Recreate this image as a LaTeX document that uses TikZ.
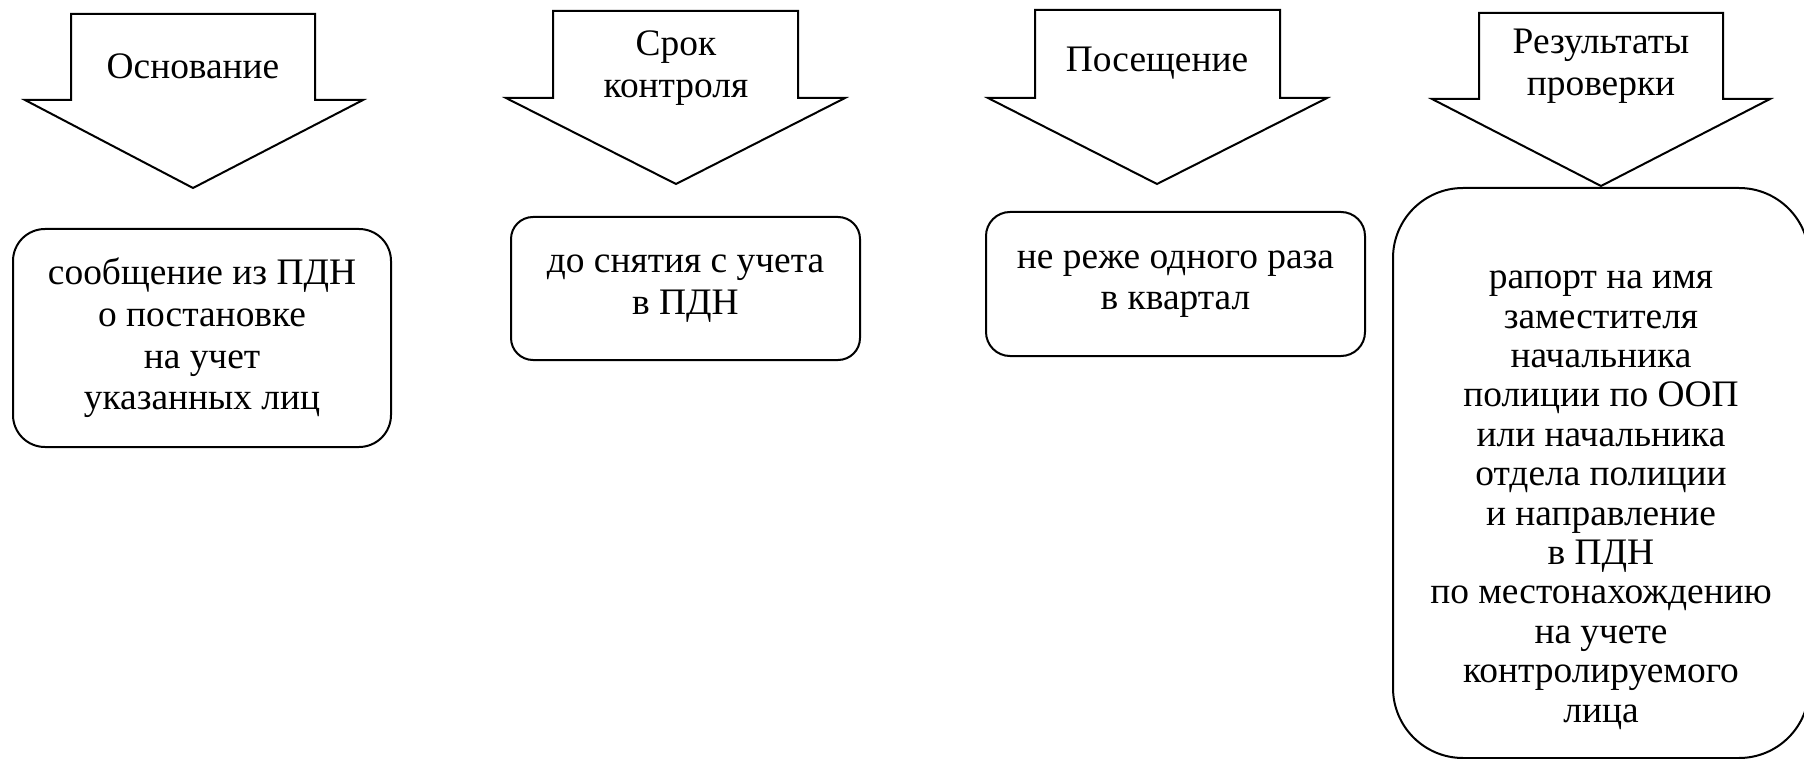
\documentclass[tikz,border=0pt]{standalone}
\usepackage{fontspec}
\setmainfont{Liberation Serif}

\begin{document}
\begin{tikzpicture}[
    x=0.5pt, y=-0.5pt,
    line width=1pt,
    txt/.style={align=center, font=\fontsize{18.7}{20.8}\selectfont},
    box/.style={draw, txt, inner sep=0pt}
  ]
  \useasboundingbox (0,0) rectangle (1804,759);
  \clip (0,0) rectangle (1804,759);

  % block arrows
  \draw (71,14) -- (315,14) -- (315,100) -- (363,100) -- (193,188) -- (25,100) -- (71,100) -- cycle;
  \draw (553,11) -- (798,11) -- (798,98) -- (845,98) -- (676,184) -- (506,98) -- (553,98) -- cycle;
  \draw (1035,10) -- (1280,10) -- (1280,98) -- (1327,98) -- (1157,184) -- (988,98) -- (1035,98) -- cycle;
  \draw (1479,13) -- (1723,13) -- (1723,99) -- (1770,99) -- (1601,186) -- (1432,99) -- (1479,99) -- cycle;

  \node[txt] (osnovanie) at (193,66) {Основание};
  \node[txt] (srok) at (676,68) {Срок\\ контроля};
  \node[txt] (poseshch) at (1157,63) {Посещение};
  \node[txt] (rezult) at (1601,66) {Результаты\\ проверки};

  % boxes
  \node[box, rounded corners=16pt, minimum width=189pt, minimum height=109pt] (soobshch) at (202,338)
    {сообщение из ПДН\\ о постановке\\ на учет\\ указанных лиц};
  \node[box, rounded corners=11pt, minimum width=174.5pt, minimum height=71.5pt] (dosnyat) at (685.5,288.5)
    {до снятия с учета\\ в ПДН};
  \node[box, rounded corners=12pt, minimum width=189.5pt, minimum height=72pt] (nerezhe) at (1175.5,284)
    {не реже одного раза\\ в квартал};
  \node[box, rounded corners=35pt, minimum width=208pt, minimum height=285pt,
        font=\fontsize{18.7}{19.7}\selectfont] (raport) at (1601,473)
    {\rule{0pt}{36pt}рапорт на имя\\ заместителя\\ начальника\\ полиции по ООП\\ или начальника\\ отдела полиции\\ и направление\\ в ПДН\\ по местонахождению\\ на учете\\ контролируемого\\ лица};
\end{tikzpicture}
\end{document}
